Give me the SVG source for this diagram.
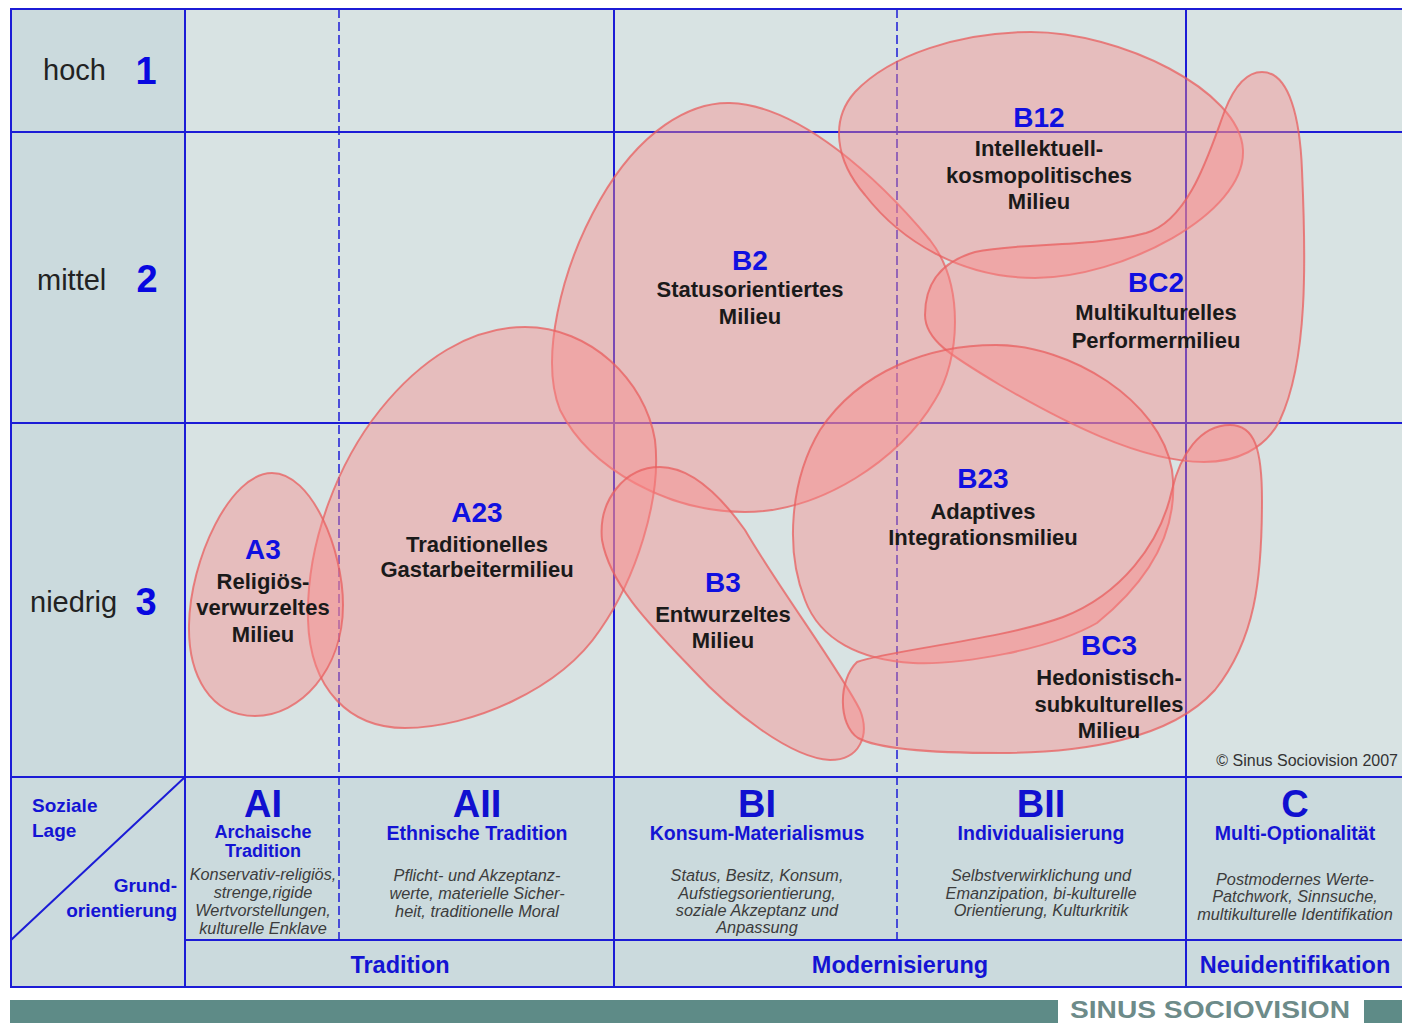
<svg xmlns="http://www.w3.org/2000/svg" width="1402" height="1023" viewBox="0 0 1402 1023">
<defs>
<style>
.bgm{fill:#d8e3e3}
.bgs{fill:#cbdadd}
.ln{stroke:#1c1cd6;stroke-width:2;fill:none}
.dl{stroke:#1c1cd6;stroke-width:1.5;stroke-dasharray:9 4;fill:none}
.blob{fill:rgb(250,135,135);fill-opacity:0.42;stroke:rgb(232,95,95);stroke-opacity:0.75;stroke-width:2}
.rowlbl{font-family:"Liberation Sans",Arial,sans-serif;font-size:29px;fill:#222}
.rownum{font-family:"Liberation Sans",Arial,sans-serif;font-size:38px;font-weight:bold;fill:#0808e0;text-anchor:middle}
.code{font-family:"Liberation Sans",Arial,sans-serif;font-size:28px;font-weight:bold;fill:#1010e0;text-anchor:middle}
.name{font-family:"Liberation Sans",Arial,sans-serif;font-size:22px;font-weight:bold;fill:#1a1a1a;text-anchor:middle}
.hdr{font-family:"Liberation Sans",Arial,sans-serif;font-size:38px;font-weight:bold;fill:#1010d0;text-anchor:middle}
.sub{font-family:"Liberation Sans",Arial,sans-serif;font-size:19.5px;font-weight:bold;fill:#1414d4;text-anchor:middle}
.sub2{font-family:"Liberation Sans",Arial,sans-serif;font-size:18px;font-weight:bold;fill:#1414d4;text-anchor:middle}
.desc{font-family:"Liberation Sans",Arial,sans-serif;font-size:16.3px;font-style:italic;fill:#3c3c3c;text-anchor:middle}
.axis{font-family:"Liberation Sans",Arial,sans-serif;font-size:23.5px;font-weight:bold;fill:#1414d4;text-anchor:middle}
.corner{font-family:"Liberation Sans",Arial,sans-serif;font-size:19px;font-weight:bold;fill:#1414d4}
.copy{font-family:"Liberation Sans",Arial,sans-serif;font-size:16px;fill:#333;text-anchor:end}
.logo{font-family:"Liberation Sans",Arial,sans-serif;font-size:24px;font-weight:bold;fill:#6d8b89}
.bar{fill:#5e8b87}
</style>
</defs>
<rect width="1402" height="1023" fill="#ffffff"/>
<g id="background">
<rect class="bgm" x="10" y="9" width="1392" height="768"/>
<rect class="bgs" x="10" y="9" width="175" height="768"/>
<rect class="bgs" x="10" y="777" width="1392" height="210"/>
</g>
<g id="grid">
<line class="ln" x1="10" y1="9" x2="1402" y2="9"/>
<line class="ln" x1="10" y1="132" x2="1402" y2="132"/>
<line class="ln" x1="10" y1="423" x2="1402" y2="423"/>
<line class="ln" x1="10" y1="777" x2="1402" y2="777"/>
<line class="ln" x1="185" y1="940" x2="1402" y2="940"/>
<line class="ln" x1="10" y1="987" x2="1402" y2="987"/>
<line class="ln" x1="11" y1="9" x2="11" y2="987"/>
<line class="ln" x1="185" y1="9" x2="185" y2="987"/>
<line class="ln" x1="614" y1="9" x2="614" y2="987"/>
<line class="ln" x1="1186" y1="9" x2="1186" y2="987"/>
<line class="dl" x1="339" y1="9" x2="339" y2="940"/>
<line class="dl" x1="897" y1="9" x2="897" y2="940"/>
<line class="ln" x1="185" y1="777" x2="11" y2="940"/>
</g>
<g id="row-labels">
<text class="rowlbl" x="43" y="80">hoch</text>
<text class="rownum" x="146" y="84">1</text>
<text class="rowlbl" x="37" y="290">mittel</text>
<text class="rownum" x="147" y="292">2</text>
<text class="rowlbl" x="30" y="612">niedrig</text>
<text class="rownum" x="146" y="615">3</text>
</g>
<g id="blobs">
<path id="blob-B2" class="blob" d="M 730 103 C 800 105, 880 180, 930 240 C 965 285, 960 360, 935 400 C 900 460, 820 512, 745 512 C 670 512, 590 470, 560 410 C 540 360, 560 270, 600 200 C 640 130, 690 102, 730 103 Z"/>
<path id="blob-A23" class="blob" d="M 525 327 C 590 327, 645 380, 655 440 C 662 500, 635 580, 600 630 C 560 690, 470 728, 405 728 C 350 728, 310 690, 308 620 C 306 540, 340 460, 380 410 C 420 360, 470 327, 525 327 Z"/>
<path id="blob-A3" class="blob" d="M 272 473 C 312 473, 343 550, 343 605 C 343 670, 300 716, 255 716 C 210 716, 188 675, 189 625 C 190 560, 230 473, 272 473 Z"/>
<path id="blob-B3" class="blob" d="M 660 467 C 690 467, 720 495, 745 530 C 780 590, 840 670, 860 710 C 870 735, 860 760, 830 760 C 790 758, 730 710, 693 670 C 650 625, 610 585, 602 540 C 598 500, 625 467, 660 467 Z"/>
<path id="blob-B12" class="blob" d="M 1031 32 C 1120 32, 1240 90, 1243 150 C 1246 215, 1120 278, 1035 278 C 960 278, 900 240, 865 195 C 835 160, 830 120, 855 92 C 890 55, 960 32, 1031 32 Z"/>
<path id="blob-BC2" class="blob" d="M 1262 72 C 1290 72, 1300 120, 1302 170 C 1306 260, 1308 360, 1280 420 C 1265 450, 1235 462, 1204 462 C 1140 462, 1060 420, 1000 385 C 950 355, 925 340, 925 315 C 925 285, 940 262, 975 252 C 1020 242, 1090 248, 1146 233 C 1190 220, 1210 150, 1225 110 C 1235 85, 1248 72, 1262 72 Z"/>
<path id="blob-B23" class="blob" d="M 996 345 C 1070 345, 1160 400, 1172 470 C 1180 530, 1150 580, 1097 623 C 1050 650, 960 665, 913 663 C 860 660, 820 640, 805 600 C 785 550, 790 480, 820 430 C 860 370, 930 345, 996 345 Z"/>
<path id="blob-BC3" class="blob" d="M 1230 425 C 1255 425, 1262 450, 1262 500 C 1262 580, 1255 640, 1215 690 C 1170 740, 1080 753, 1000 753 C 940 753, 880 750, 858 738 C 838 725, 838 680, 857 662 C 890 650, 1000 640, 1063 617 C 1120 595, 1160 545, 1172 490 C 1180 455, 1200 425, 1230 425 Z"/>
</g>
<g id="node-B2">
<text class="code" x="750" y="270">B2</text>
<text class="name" x="750" y="297">Statusorientiertes</text>
<text class="name" x="750" y="324">Milieu</text>
</g>
<g id="node-B12">
<text class="code" x="1039" y="127">B12</text>
<text class="name" x="1039" y="156">Intellektuell-</text>
<text class="name" x="1039" y="183">kosmopolitisches</text>
<text class="name" x="1039" y="209">Milieu</text>
</g>
<g id="node-BC2">
<text class="code" x="1156" y="292">BC2</text>
<text class="name" x="1156" y="320">Multikulturelles</text>
<text class="name" x="1156" y="348">Performermilieu</text>
</g>
<g id="node-B23">
<text class="code" x="983" y="488">B23</text>
<text class="name" x="983" y="519">Adaptives</text>
<text class="name" x="983" y="545">Integrationsmilieu</text>
</g>
<g id="node-BC3">
<text class="code" x="1109" y="655">BC3</text>
<text class="name" x="1109" y="685">Hedonistisch-</text>
<text class="name" x="1109" y="712">subkulturelles</text>
<text class="name" x="1109" y="738">Milieu</text>
</g>
<g id="node-A23">
<text class="code" x="477" y="522">A23</text>
<text class="name" x="477" y="552">Traditionelles</text>
<text class="name" x="477" y="577">Gastarbeitermilieu</text>
</g>
<g id="node-A3">
<text class="code" x="263" y="559">A3</text>
<text class="name" x="263" y="589">Religiös-</text>
<text class="name" x="263" y="615">verwurzeltes</text>
<text class="name" x="263" y="642">Milieu</text>
</g>
<g id="node-B3">
<text class="code" x="723" y="592">B3</text>
<text class="name" x="723" y="622">Entwurzeltes</text>
<text class="name" x="723" y="648">Milieu</text>
</g>
<text class="copy" x="1398" y="766">© Sinus Sociovision 2007</text>
<g id="corner">
<text class="corner" x="32" y="812">Soziale</text>
<text class="corner" x="32" y="837">Lage</text>
<text class="corner" x="177" y="892" text-anchor="end">Grund-</text>
<text class="corner" x="177" y="917" text-anchor="end">orientierung</text>
</g>
<g id="col-AI">
<text class="hdr" x="263" y="817">AI</text>
<text class="sub2" x="263" y="838">Archaische</text>
<text class="sub2" x="263" y="857">Tradition</text>
<text class="desc" x="263" y="880">Konservativ-religiös,</text>
<text class="desc" x="263" y="898">strenge,rigide</text>
<text class="desc" x="263" y="916">Wertvorstellungen,</text>
<text class="desc" x="263" y="934">kulturelle Enklave</text>
</g>
<g id="col-AII">
<text class="hdr" x="477" y="817">AII</text>
<text class="sub" x="477" y="840">Ethnische Tradition</text>
<text class="desc" x="477" y="881">Pflicht- und Akzeptanz-</text>
<text class="desc" x="477" y="899">werte, materielle Sicher-</text>
<text class="desc" x="477" y="917">heit, traditionelle Moral</text>
</g>
<g id="col-BI">
<text class="hdr" x="757" y="817">BI</text>
<text class="sub" x="757" y="840">Konsum-Materialismus</text>
<text class="desc" x="757" y="881">Status, Besitz, Konsum,</text>
<text class="desc" x="757" y="899">Aufstiegsorientierung,</text>
<text class="desc" x="757" y="916">soziale Akzeptanz und</text>
<text class="desc" x="757" y="933">Anpassung</text>
</g>
<g id="col-BII">
<text class="hdr" x="1041" y="817">BII</text>
<text class="sub" x="1041" y="840">Individualisierung</text>
<text class="desc" x="1041" y="881">Selbstverwirklichung und</text>
<text class="desc" x="1041" y="899">Emanzipation, bi-kulturelle</text>
<text class="desc" x="1041" y="916">Orientierung, Kulturkritik</text>
</g>
<g id="col-C">
<text class="hdr" x="1295" y="817">C</text>
<text class="sub" x="1295" y="840">Multi-Optionalität</text>
<text class="desc" x="1295" y="885">Postmodernes Werte-</text>
<text class="desc" x="1295" y="902">Patchwork, Sinnsuche,</text>
<text class="desc" x="1295" y="920">multikulturelle Identifikation</text>
</g>
<g id="axis">
<text class="axis" x="400" y="973">Tradition</text>
<text class="axis" x="900" y="973">Modernisierung</text>
<text class="axis" x="1295" y="973">Neuidentifikation</text>
</g>
<g id="footer">
<rect class="bar" x="10" y="1000" width="1048" height="23"/>
<rect class="bar" x="1364" y="1000" width="38" height="23"/>
<text class="logo" x="1070" y="1018" textLength="280" lengthAdjust="spacingAndGlyphs">SINUS SOCIOVISION</text>
</g>
</svg>
